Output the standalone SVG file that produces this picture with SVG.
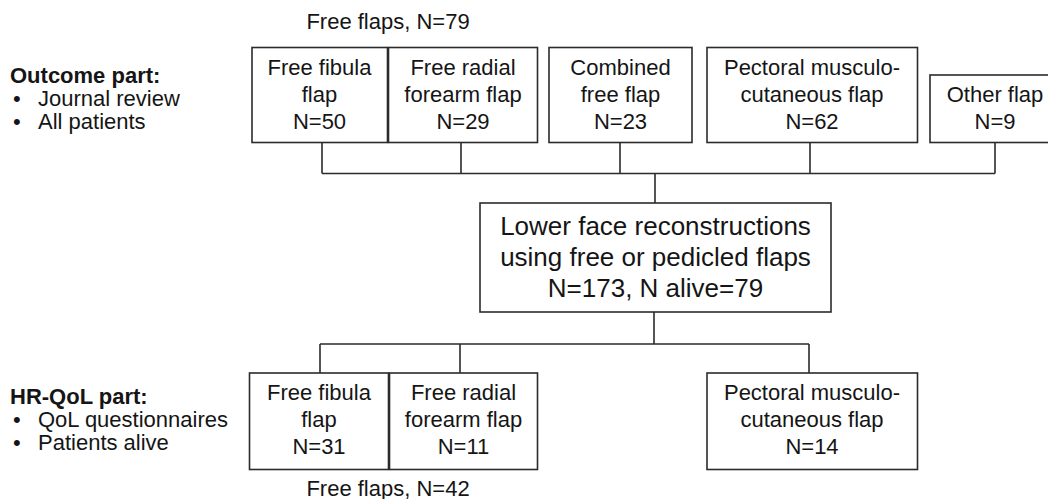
<svg xmlns="http://www.w3.org/2000/svg" width="1048" height="499" viewBox="0 0 1048 499">
<style>
.bx{fill:#fff;stroke:#2b2b2b;stroke-width:1.6}
.ln{fill:none;stroke:#2b2b2b;stroke-width:1.6}
text{font-family:"Liberation Sans",Arial,sans-serif;font-size:22px;fill:#151515}
.c{text-anchor:middle}
.b{font-weight:bold}
.big{font-size:26px}
</style>
<rect width="1048" height="499" fill="#fff"/>
<g id="connectors">
<path class="ln" d="M322,142.5V173.5M461,142.5V173.5M620,142.5V173.5M810,142.5V173.5M995,142.5V173.5M322,173.5H995M655,173.5V203"/>
<path class="ln" d="M654,312V344M320,344H809M320,344V373M460,344V373M809,344V373"/>
</g>
<g id="label-outcome">
<text x="10" y="83" class="b">Outcome part:</text>
<text x="13" y="106">•</text><text x="38" y="106">Journal review</text>
<text x="13" y="129">•</text><text x="38" y="129">All patients</text>
</g>
<g id="label-hrqol">
<text x="10" y="404" class="b">HR-QoL part:</text>
<text x="13" y="427">•</text><text x="38" y="427">QoL questionnaires</text>
<text x="13" y="450">•</text><text x="38" y="450">Patients alive</text>
</g>
<g id="label-free-top"><text x="388" y="29" class="c">Free flaps, N=79</text></g>
<g id="label-free-bottom"><text x="388" y="496" class="c">Free flaps, N=42</text></g>
<g id="top-fibula">
<rect class="bx" x="252" y="47.5" width="135.5" height="95"/>
<text class="c" x="319.5" y="74.5">Free fibula</text>
<text class="c" x="319.5" y="101.5">flap</text>
<text class="c" x="319.5" y="128.5">N=50</text>
</g>
<g id="top-radial">
<rect class="bx" x="388.5" y="47.5" width="149" height="95"/>
<text class="c" x="463" y="74.5">Free radial</text>
<text class="c" x="463" y="101.5">forearm flap</text>
<text class="c" x="463" y="128.5">N=29</text>
</g>
<g id="top-combined">
<rect class="bx" x="549" y="47.5" width="143" height="95"/>
<text class="c" x="620.5" y="74.5">Combined</text>
<text class="c" x="620.5" y="101.5">free flap</text>
<text class="c" x="620.5" y="128.5">N=23</text>
</g>
<g id="top-pectoral">
<rect class="bx" x="707" y="47.5" width="210.5" height="95"/>
<text class="c" x="812" y="74.5">Pectoral musculo-</text>
<text class="c" x="812" y="101.5">cutaneous flap</text>
<text class="c" x="812" y="128.5">N=62</text>
</g>
<g id="top-other">
<rect class="bx" x="930" y="75" width="130" height="67.5"/>
<text class="c" x="995" y="101.5">Other flap</text>
<text class="c" x="995" y="128.5">N=9</text>
</g>
<g id="center">
<rect class="bx" x="480" y="203" width="351" height="109"/>
<text class="c big" x="655.5" y="235">Lower face reconstructions</text>
<text class="c big" x="655.5" y="266">using free or pedicled flaps</text>
<text class="c big" x="655.5" y="297">N=173, N alive=79</text>
</g>
<g id="bottom-fibula">
<rect class="bx" x="249.5" y="373" width="139" height="96.5"/>
<text class="c" x="319" y="400">Free fibula</text>
<text class="c" x="319" y="427">flap</text>
<text class="c" x="319" y="454">N=31</text>
</g>
<g id="bottom-radial">
<rect class="bx" x="389.5" y="373" width="148" height="96.5"/>
<text class="c" x="463.5" y="400">Free radial</text>
<text class="c" x="463.5" y="427">forearm flap</text>
<text class="c" x="463.5" y="454">N=11</text>
</g>
<g id="bottom-pectoral">
<rect class="bx" x="707" y="373" width="210.5" height="96.5"/>
<text class="c" x="812" y="400">Pectoral musculo-</text>
<text class="c" x="812" y="427">cutaneous flap</text>
<text class="c" x="812" y="454">N=14</text>
</g>
</svg>
